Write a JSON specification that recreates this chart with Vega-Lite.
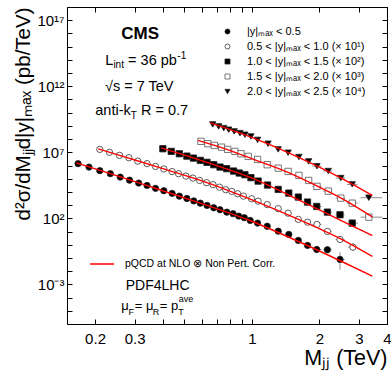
{
  "$schema": "https://vega.github.io/schema/vega-lite/v6.json",
  "width": 320,
  "height": 317,
  "autosize": "none",
  "padding": {"left": 67, "top": 7, "right": 4, "bottom": 47},
  "config": {
    "font": "Liberation Sans",
    "view": {"stroke": null},
    "axis": {"domainColor": "black", "tickColor": "black", "labelColor": "black", "titleColor": "black", "titleFontWeight": "normal", "grid": false, "labelFont": "Liberation Sans", "titleFont": "Liberation Sans"},
    "legend": {"labelColor": "black", "labelFont": "Liberation Sans"},
    "text": {"font": "Liberation Sans", "color": "black"}
  },
  "datasets": {
    "one": [{"n": 1}],
    "pts": [
      {"s": "a", "m": 0.168, "v": 1.38e6}, {"s": "a", "m": 0.188, "v": 7.59e5}, {"s": "a", "m": 0.21, "v": 4.07e5}, {"s": "a", "m": 0.234, "v": 2.40e5},
      {"s": "a", "m": 0.259, "v": 1.32e5}, {"s": "a", "m": 0.285, "v": 7.76e4}, {"s": "a", "m": 0.313, "v": 4.68e4}, {"s": "a", "m": 0.341, "v": 3.09e4},
      {"s": "a", "m": 0.372, "v": 1.86e4}, {"s": "a", "m": 0.405, "v": 1.23e4}, {"s": "a", "m": 0.441, "v": 7.76e3}, {"s": "a", "m": 0.475, "v": 4.79e3},
      {"s": "a", "m": 0.513, "v": 3.16e3}, {"s": "a", "m": 0.551, "v": 2.09e3}, {"s": "a", "m": 0.589, "v": 1.41e3}, {"s": "a", "m": 0.631, "v": 955},
      {"s": "a", "m": 0.676, "v": 631}, {"s": "a", "m": 0.721, "v": 447}, {"s": "a", "m": 0.773, "v": 295}, {"s": "a", "m": 0.824, "v": 224},
      {"s": "a", "m": 0.873, "v": 148}, {"s": "a", "m": 0.925, "v": 112}, {"s": "a", "m": 0.983, "v": 69.2}, {"s": "a", "m": 1.06, "v": 43.6},
      {"s": "a", "m": 1.17, "v": 25.1}, {"s": "a", "m": 1.31, "v": 10.7}, {"s": "a", "m": 1.46, "v": 6.03}, {"s": "a", "m": 1.61, "v": 2.14},
      {"s": "a", "m": 1.77, "v": 0.891}, {"s": "a", "m": 1.945, "v": 0.437, "xl": 1.86, "xh": 2.04},
      {"s": "a", "m": 2.17, "v": 0.417, "xl": 2.08, "xh": 2.27}, {"s": "a", "m": 2.47, "v": 0.0776, "xl": 2.36, "xh": 2.59, "yl": 0.0129, "yh": 0.275},
      {"s": "b", "m": 0.21, "v": 1.66e7}, {"s": "b", "m": 0.232, "v": 1.0e7}, {"s": "b", "m": 0.257, "v": 5.89e6}, {"s": "b", "m": 0.283, "v": 3.89e6},
      {"s": "b", "m": 0.31, "v": 2.14e6}, {"s": "b", "m": 0.341, "v": 1.38e6}, {"s": "b", "m": 0.372, "v": 8.51e5}, {"s": "b", "m": 0.405, "v": 5.50e5},
      {"s": "b", "m": 0.441, "v": 3.47e5}, {"s": "b", "m": 0.471, "v": 2.40e5}, {"s": "b", "m": 0.508, "v": 1.58e5}, {"s": "b", "m": 0.546, "v": 1.12e5},
      {"s": "b", "m": 0.585, "v": 7.41e4}, {"s": "b", "m": 0.628, "v": 5.01e4}, {"s": "b", "m": 0.671, "v": 3.55e4}, {"s": "b", "m": 0.717, "v": 2.29e4},
      {"s": "b", "m": 0.764, "v": 1.48e4}, {"s": "b", "m": 0.813, "v": 1.10e4}, {"s": "b", "m": 0.864, "v": 7.24e3}, {"s": "b", "m": 0.917, "v": 4.79e3},
      {"s": "b", "m": 0.997, "v": 3.02e3}, {"s": "b", "m": 1.066, "v": 2.0e3}, {"s": "b", "m": 1.17, "v": 1.10e3}, {"s": "b", "m": 1.31, "v": 537},
      {"s": "b", "m": 1.45, "v": 245}, {"s": "b", "m": 1.61, "v": 83.2}, {"s": "b", "m": 1.77, "v": 51.3},
      {"s": "b", "m": 1.95, "v": 34.7, "xl": 1.86, "xh": 2.04}, {"s": "b", "m": 2.17, "v": 10.2, "xl": 2.08, "xh": 2.27},
      {"s": "b", "m": 2.47, "v": 2.51, "xl": 2.36, "xh": 2.59, "yl": 1.7, "yh": 3.6}, {"s": "b", "m": 2.82, "v": 0.661, "xl": 2.68, "xh": 2.95, "yl": 0.331, "yh": 1.32},
      {"s": "c", "m": 0.401, "v": 1.86e7}, {"s": "c", "m": 0.437, "v": 1.17e7}, {"s": "c", "m": 0.475, "v": 7.76e6}, {"s": "c", "m": 0.513, "v": 5.13e6},
      {"s": "c", "m": 0.549, "v": 3.63e6}, {"s": "c", "m": 0.589, "v": 2.45e6}, {"s": "c", "m": 0.631, "v": 1.74e6}, {"s": "c", "m": 0.676, "v": 1.15e6},
      {"s": "c", "m": 0.721, "v": 7.59e5}, {"s": "c", "m": 0.772, "v": 5.75e5}, {"s": "c", "m": 0.829, "v": 3.80e5}, {"s": "c", "m": 0.878, "v": 2.69e5},
      {"s": "c", "m": 0.931, "v": 2.0e5}, {"s": "c", "m": 0.99, "v": 1.20e5}, {"s": "c", "m": 1.066, "v": 6.61e4}, {"s": "c", "m": 1.174, "v": 3.31e4},
      {"s": "c", "m": 1.31, "v": 1.55e4}, {"s": "c", "m": 1.46, "v": 8.13e3}, {"s": "c", "m": 1.61, "v": 4.07e3}, {"s": "c", "m": 1.77, "v": 1.70e3},
      {"s": "c", "m": 1.945, "v": 794, "xl": 1.86, "xh": 2.04}, {"s": "c", "m": 2.17, "v": 295, "xl": 2.08, "xh": 2.27},
      {"s": "c", "m": 2.47, "v": 186, "xl": 2.36, "xh": 2.59}, {"s": "c", "m": 2.80, "v": 43.6, "xl": 2.68, "xh": 2.97},
      {"s": "d", "m": 0.593, "v": 6.76e7}, {"s": "d", "m": 0.636, "v": 4.47e7}, {"s": "d", "m": 0.680, "v": 3.31e7}, {"s": "d", "m": 0.733, "v": 2.45e7},
      {"s": "d", "m": 0.780, "v": 1.66e7}, {"s": "d", "m": 0.840, "v": 1.17e7}, {"s": "d", "m": 0.894, "v": 7.76e6}, {"s": "d", "m": 0.963, "v": 4.90e6},
      {"s": "d", "m": 1.06, "v": 2.88e6}, {"s": "d", "m": 1.17, "v": 1.15e6}, {"s": "d", "m": 1.31, "v": 6.31e5}, {"s": "d", "m": 1.45, "v": 3.55e5},
      {"s": "d", "m": 1.62, "v": 1.78e5}, {"s": "d", "m": 1.79, "v": 7.41e4}, {"s": "d", "m": 1.95, "v": 2.63e4, "xl": 1.86, "xh": 2.04},
      {"s": "d", "m": 2.19, "v": 1.15e4, "xl": 2.08, "xh": 2.28}, {"s": "d", "m": 2.49, "v": 3.39e3, "xl": 2.36, "xh": 2.6},
      {"s": "d", "m": 2.80, "v": 1.41e3, "xl": 2.65, "xh": 2.96}, {"s": "d", "m": 3.32, "v": 123, "xl": 3.05, "xh": 3.81},
      {"s": "e", "m": 0.669, "v": 1.29e9}, {"s": "e", "m": 0.711, "v": 9.12e8}, {"s": "e", "m": 0.749, "v": 6.76e8}, {"s": "e", "m": 0.788, "v": 5.13e8},
      {"s": "e", "m": 0.834, "v": 3.80e8}, {"s": "e", "m": 0.885, "v": 2.82e8}, {"s": "e", "m": 0.931, "v": 2.14e8}, {"s": "e", "m": 0.99, "v": 1.58e8},
      {"s": "e", "m": 1.06, "v": 8.71e7}, {"s": "e", "m": 1.18, "v": 4.47e7}, {"s": "e", "m": 1.31, "v": 1.66e7}, {"s": "e", "m": 1.45, "v": 9.33e6},
      {"s": "e", "m": 1.62, "v": 4.37e6}, {"s": "e", "m": 1.79, "v": 2.04e6}, {"s": "e", "m": 1.95, "v": 8.91e5, "xl": 1.86, "xh": 2.04},
      {"s": "e", "m": 2.19, "v": 3.80e5, "xl": 2.08, "xh": 2.28}, {"s": "e", "m": 2.49, "v": 1.12e5, "xl": 2.36, "xh": 2.6},
      {"s": "e", "m": 2.80, "v": 3.72e4, "xl": 2.65, "xh": 2.96}, {"s": "e", "m": 3.32, "v": 3.63e3, "xl": 3.05, "xh": 3.81}
    ],
    "th": [
      {"s": "a", "k": "pQCD at NLO ⊗ Non Pert. Corr.", "m": 0.165, "v": 1.58e6}, {"s": "a", "k": "pQCD at NLO ⊗ Non Pert. Corr.", "m": 0.236, "v": 2.29e5},
      {"s": "a", "k": "pQCD at NLO ⊗ Non Pert. Corr.", "m": 0.356, "v": 2.40e4}, {"s": "a", "k": "pQCD at NLO ⊗ Non Pert. Corr.", "m": 0.593, "v": 1.35e3},
      {"s": "a", "k": "pQCD at NLO ⊗ Non Pert. Corr.", "m": 0.99, "v": 63.1}, {"s": "a", "k": "pQCD at NLO ⊗ Non Pert. Corr.", "m": 1.651, "v": 1.48},
      {"s": "a", "k": "pQCD at NLO ⊗ Non Pert. Corr.", "m": 2.487, "v": 0.0589}, {"s": "a", "k": "pQCD at NLO ⊗ Non Pert. Corr.", "m": 3.44, "v": 0.00417},
      {"s": "b", "k": "pQCD at NLO ⊗ Non Pert. Corr.", "m": 0.2067, "v": 1.82e7}, {"s": "b", "k": "pQCD at NLO ⊗ Non Pert. Corr.", "m": 0.29, "v": 3.16e6},
      {"s": "b", "k": "pQCD at NLO ⊗ Non Pert. Corr.", "m": 0.405, "v": 5.50e5}, {"s": "b", "k": "pQCD at NLO ⊗ Non Pert. Corr.", "m": 0.631, "v": 5.01e4},
      {"s": "b", "k": "pQCD at NLO ⊗ Non Pert. Corr.", "m": 0.99, "v": 2.69e3}, {"s": "b", "k": "pQCD at NLO ⊗ Non Pert. Corr.", "m": 1.651, "v": 69.2},
      {"s": "b", "k": "pQCD at NLO ⊗ Non Pert. Corr.", "m": 2.487, "v": 2.75}, {"s": "b", "k": "pQCD at NLO ⊗ Non Pert. Corr.", "m": 3.44, "v": 0.129},
      {"s": "c", "k": "pQCD at NLO ⊗ Non Pert. Corr.", "m": 0.394, "v": 2.14e7}, {"s": "c", "k": "pQCD at NLO ⊗ Non Pert. Corr.", "m": 0.631, "v": 1.70e6},
      {"s": "c", "k": "pQCD at NLO ⊗ Non Pert. Corr.", "m": 0.99, "v": 1.20e5}, {"s": "c", "k": "pQCD at NLO ⊗ Non Pert. Corr.", "m": 1.651, "v": 2.09e3},
      {"s": "c", "k": "pQCD at NLO ⊗ Non Pert. Corr.", "m": 2.487, "v": 69.2}, {"s": "c", "k": "pQCD at NLO ⊗ Non Pert. Corr.", "m": 3.44, "v": 5.01},
      {"s": "d", "k": "pQCD at NLO ⊗ Non Pert. Corr.", "m": 0.575, "v": 7.94e7}, {"s": "d", "k": "pQCD at NLO ⊗ Non Pert. Corr.", "m": 0.807, "v": 1.29e7},
      {"s": "d", "k": "pQCD at NLO ⊗ Non Pert. Corr.", "m": 1.06, "v": 2.24e6}, {"s": "d", "k": "pQCD at NLO ⊗ Non Pert. Corr.", "m": 1.45, "v": 3.02e5},
      {"s": "d", "k": "pQCD at NLO ⊗ Non Pert. Corr.", "m": 1.945, "v": 2.85e4}, {"s": "d", "k": "pQCD at NLO ⊗ Non Pert. Corr.", "m": 2.487, "v": 3.55e3},
      {"s": "d", "k": "pQCD at NLO ⊗ Non Pert. Corr.", "m": 3.44, "v": 129},
      {"s": "e", "k": "pQCD at NLO ⊗ Non Pert. Corr.", "m": 0.651, "v": 1.70e9}, {"s": "e", "k": "pQCD at NLO ⊗ Non Pert. Corr.", "m": 0.894, "v": 2.69e8},
      {"s": "e", "k": "pQCD at NLO ⊗ Non Pert. Corr.", "m": 1.178, "v": 4.37e7}, {"s": "e", "k": "pQCD at NLO ⊗ Non Pert. Corr.", "m": 1.651, "v": 3.47e6},
      {"s": "e", "k": "pQCD at NLO ⊗ Non Pert. Corr.", "m": 2.487, "v": 1.15e5}, {"s": "e", "k": "pQCD at NLO ⊗ Non Pert. Corr.", "m": 3.44, "v": 5.37e3}
    ]
  },
  "layer": [
    {
      "data": {"name": "pts"},
      "transform": [{"filter": "isValid(datum.xl)"}],
      "mark": {"type": "rule", "color": "#8c8c8c", "strokeWidth": 1},
      "encoding": {
        "x": {"field": "xl", "type": "quantitative", "scale": {"type": "log", "domain": [0.15, 4], "nice": false}, "axis": null},
        "x2": {"field": "xh"},
        "y": {"field": "v", "type": "quantitative", "scale": {"type": "log", "domain": [1e-6, 1e18], "nice": false}, "axis": null}
      }
    },
    {
      "data": {"name": "pts"},
      "transform": [{"filter": "isValid(datum.yl)"}],
      "mark": {"type": "rule", "color": "#8c8c8c", "strokeWidth": 1},
      "encoding": {
        "x": {"field": "m", "type": "quantitative", "scale": {"type": "log", "domain": [0.15, 4], "nice": false}, "axis": null},
        "y": {"field": "yl", "type": "quantitative", "scale": {"type": "log", "domain": [1e-6, 1e18], "nice": false}, "axis": null},
        "y2": {"field": "yh"}
      }
    },
    {
      "data": {"name": "pts"},
      "mark": {"type": "point", "filled": true, "strokeWidth": 0.8, "size": 40, "opacity": 1},
      "encoding": {
        "x": {"field": "m", "type": "quantitative", "scale": {"type": "log", "domain": [0.15, 4], "nice": false},
          "axis": {"orient": "bottom", "values": [0.2, 0.3, 0.4, 0.5, 0.6, 0.7, 0.8, 0.9, 1, 2, 3, 4], "format": "~g",
            "labelExpr": "indexof([0.2, 0.3, 1, 2, 3, 4], datum.value) >= 0 ? datum.label : ''",
            "tickSize": -5, "labelPadding": 12, "labelFontSize": 15, "labelOverlap": false, "labelFlush": false, "labelBound": false,
            "title": "Mⱼⱼ (TeV)", "titleAnchor": "end", "titleFontSize": 21.5, "titlePadding": 1}},
        "y": {"field": "v", "type": "quantitative", "scale": {"type": "log", "domain": [1e-6, 1e18], "nice": false},
          "axis": {"orient": "left", "values": [1e-6, 1e-5, 1e-4, 1e-3, 1e-2, 1e-1, 1, 10, 100, 1e3, 1e4, 1e5, 1e6, 1e7, 1e8, 1e9, 1e10, 1e11, 1e12, 1e13, 1e14, 1e15, 1e16, 1e17, 1e18],
            "labelExpr": "round(log(datum.value)/LN10) == 17 ? '10¹⁷' : round(log(datum.value)/LN10) == 12 ? '10¹²' : round(log(datum.value)/LN10) == 7 ? '10⁷' : round(log(datum.value)/LN10) == 2 ? '10²' : round(log(datum.value)/LN10) == -3 ? '10⁻³' : ''",
            "tickSize": -5, "labelPadding": 8, "labelFontSize": 15, "labelOverlap": false, "labelBound": false,
            "title": "d²σ/dMⱼⱼd|y|ₘₐₓ (pb/TeV)", "titleAnchor": "end", "titleFontSize": 20.5, "titlePadding": 3}},
        "shape": {"field": "s", "type": "nominal",
          "scale": {"domain": ["a", "b", "c", "d", "e"], "range": ["circle", "circle", "square", "square", "triangle-down"]},
          "legend": {"orient": "none", "legendX": 155, "legendY": 19, "title": null, "padding": 0, "labelFontSize": 11, "symbolSize": 25,
            "symbolStrokeWidth": 0.8, "rowPadding": 3, "labelOffset": 14,
            "labelExpr": "datum.value == 'a' ? '|y|ₘₐₓ < 0.5' : datum.value == 'b' ? '0.5 < |y|ₘₐₓ < 1.0 (× 10¹)' : datum.value == 'c' ? '1.0 < |y|ₘₐₓ < 1.5 (× 10²)' : datum.value == 'd' ? '1.5 < |y|ₘₐₓ < 2.0 (× 10³)' : '2.0 < |y|ₘₐₓ < 2.5 (× 10⁴)'"}},
        "fill": {"field": "s", "type": "nominal",
          "scale": {"domain": ["a", "b", "c", "d", "e"], "range": ["black", "white", "black", "white", "black"]},
          "legend": {"orient": "none", "legendX": 155, "legendY": 19, "title": null, "padding": 0, "labelFontSize": 11, "symbolSize": 25,
            "symbolStrokeWidth": 0.8, "rowPadding": 3, "labelOffset": 14,
            "labelExpr": "datum.value == 'a' ? '|y|ₘₐₓ < 0.5' : datum.value == 'b' ? '0.5 < |y|ₘₐₓ < 1.0 (× 10¹)' : datum.value == 'c' ? '1.0 < |y|ₘₐₓ < 1.5 (× 10²)' : datum.value == 'd' ? '1.5 < |y|ₘₐₓ < 2.0 (× 10³)' : '2.0 < |y|ₘₐₓ < 2.5 (× 10⁴)'"}},
        "stroke": {"field": "s", "type": "nominal",
          "scale": {"domain": ["a", "b", "c", "d", "e"], "range": ["#222222", "#333333", "#222222", "#555555", "#222222"]},
          "legend": {"orient": "none", "legendX": 155, "legendY": 19, "title": null, "padding": 0, "labelFontSize": 11, "symbolSize": 25,
            "symbolStrokeWidth": 0.8, "rowPadding": 3, "labelOffset": 14,
            "labelExpr": "datum.value == 'a' ? '|y|ₘₐₓ < 0.5' : datum.value == 'b' ? '0.5 < |y|ₘₐₓ < 1.0 (× 10¹)' : datum.value == 'c' ? '1.0 < |y|ₘₐₓ < 1.5 (× 10²)' : datum.value == 'd' ? '1.5 < |y|ₘₐₓ < 2.0 (× 10³)' : '2.0 < |y|ₘₐₓ < 2.5 (× 10⁴)'"}}
      }
    },
    {
      "data": {"name": "th"},
      "mark": {"type": "line", "strokeWidth": 1.4, "interpolate": "monotone"},
      "encoding": {
        "x": {"field": "m", "type": "quantitative", "scale": {"type": "log", "domain": [0.15, 4], "nice": false},
          "axis": {"orient": "top", "values": [0.2, 0.3, 0.4, 0.5, 0.6, 0.7, 0.8, 0.9, 1, 2, 3, 4], "labels": false, "tickSize": -5, "title": null}},
        "y": {"field": "v", "type": "quantitative", "scale": {"type": "log", "domain": [1e-6, 1e18], "nice": false},
          "axis": {"orient": "right", "values": [1e-6, 1e-5, 1e-4, 1e-3, 1e-2, 1e-1, 1, 10, 100, 1e3, 1e4, 1e5, 1e6, 1e7, 1e8, 1e9, 1e10, 1e11, 1e12, 1e13, 1e14, 1e15, 1e16, 1e17, 1e18], "labels": false, "tickSize": -5, "title": null}},
        "detail": {"field": "s"},
        "color": {"field": "k", "type": "nominal", "scale": {"range": ["#ff0000"]},
          "legend": {"orient": "none", "legendX": 22, "legendY": 244, "title": null, "padding": 0, "symbolType": "stroke", "symbolSize": 576, "symbolStrokeWidth": 1.5, "labelFontSize": 10.5, "labelOffset": 10}}
      }
    },
    {"data": {"name": "one"}, "mark": {"type": "text", "text": "CMS", "fontSize": 17, "fontWeight": "bold", "align": "center", "baseline": "alphabetic"},
      "encoding": {"x": {"datum": 0.3178, "type": "quantitative", "scale": {"type": "log", "domain": [0.15, 4], "nice": false}, "axis": null},
        "y": {"datum": 3.77e15, "type": "quantitative", "scale": {"type": "log", "domain": [1e-6, 1e18], "nice": false}, "axis": null}}},
    {"data": {"name": "one"}, "mark": {"type": "text", "text": "L", "fontSize": 14.5, "align": "left", "baseline": "alphabetic"},
      "encoding": {"x": {"datum": 0.2222, "type": "quantitative", "scale": {"type": "log", "domain": [0.15, 4], "nice": false}, "axis": null},
        "y": {"datum": 4.26e13, "type": "quantitative", "scale": {"type": "log", "domain": [1e-6, 1e18], "nice": false}, "axis": null}}},
    {"data": {"name": "one"}, "mark": {"type": "text", "text": "int", "fontSize": 10, "align": "left", "baseline": "alphabetic", "dx": 8.1, "dy": 3.7},
      "encoding": {"x": {"datum": 0.2222, "type": "quantitative", "scale": {"type": "log", "domain": [0.15, 4], "nice": false}, "axis": null},
        "y": {"datum": 4.26e13, "type": "quantitative", "scale": {"type": "log", "domain": [1e-6, 1e18], "nice": false}, "axis": null}}},
    {"data": {"name": "one"}, "mark": {"type": "text", "text": "= 36 pb", "fontSize": 14.5, "align": "left", "baseline": "alphabetic", "dx": 22.8},
      "encoding": {"x": {"datum": 0.2222, "type": "quantitative", "scale": {"type": "log", "domain": [0.15, 4], "nice": false}, "axis": null},
        "y": {"datum": 4.26e13, "type": "quantitative", "scale": {"type": "log", "domain": [1e-6, 1e18], "nice": false}, "axis": null}}},
    {"data": {"name": "one"}, "mark": {"type": "text", "text": "-1", "fontSize": 10, "align": "left", "baseline": "alphabetic", "dx": 72, "dy": -6},
      "encoding": {"x": {"datum": 0.2222, "type": "quantitative", "scale": {"type": "log", "domain": [0.15, 4], "nice": false}, "axis": null},
        "y": {"datum": 4.26e13, "type": "quantitative", "scale": {"type": "log", "domain": [1e-6, 1e18], "nice": false}, "axis": null}}},
    {"data": {"name": "one"}, "mark": {"type": "text", "text": "√s = 7 TeV", "fontSize": 14.5, "align": "center", "baseline": "alphabetic"},
      "encoding": {"x": {"datum": 0.3147, "type": "quantitative", "scale": {"type": "log", "domain": [0.15, 4], "nice": false}, "axis": null},
        "y": {"datum": 4.11e11, "type": "quantitative", "scale": {"type": "log", "domain": [1e-6, 1e18], "nice": false}, "axis": null}}},
    {"data": {"name": "one"}, "mark": {"type": "text", "text": "anti-k", "fontSize": 14.5, "align": "left", "baseline": "alphabetic"},
      "encoding": {"x": {"datum": 0.2005, "type": "quantitative", "scale": {"type": "log", "domain": [0.15, 4], "nice": false}, "axis": null},
        "y": {"datum": 6.24e9, "type": "quantitative", "scale": {"type": "log", "domain": [1e-6, 1e18], "nice": false}, "axis": null}}},
    {"data": {"name": "one"}, "mark": {"type": "text", "text": "T", "fontSize": 10, "align": "left", "baseline": "alphabetic", "dx": 35.4, "dy": 3.7},
      "encoding": {"x": {"datum": 0.2005, "type": "quantitative", "scale": {"type": "log", "domain": [0.15, 4], "nice": false}, "axis": null},
        "y": {"datum": 6.24e9, "type": "quantitative", "scale": {"type": "log", "domain": [1e-6, 1e18], "nice": false}, "axis": null}}},
    {"data": {"name": "one"}, "mark": {"type": "text", "text": "R = 0.7", "fontSize": 14.5, "align": "left", "baseline": "alphabetic", "dx": 45.6},
      "encoding": {"x": {"datum": 0.2005, "type": "quantitative", "scale": {"type": "log", "domain": [0.15, 4], "nice": false}, "axis": null},
        "y": {"datum": 6.24e9, "type": "quantitative", "scale": {"type": "log", "domain": [1e-6, 1e18], "nice": false}, "axis": null}}},
    {"data": {"name": "one"}, "mark": {"type": "text", "text": "PDF4LHC", "fontSize": 14, "align": "center", "baseline": "alphabetic"},
      "encoding": {"x": {"datum": 0.38, "type": "quantitative", "scale": {"type": "log", "domain": [0.15, 4], "nice": false}, "axis": null},
        "y": {"datum": 3.45e-4, "type": "quantitative", "scale": {"type": "log", "domain": [1e-6, 1e18], "nice": false}, "axis": null}}},
    {"data": {"name": "one"}, "mark": {"type": "text", "text": "μ", "fontSize": 13, "align": "left", "baseline": "alphabetic"},
      "encoding": {"x": {"datum": 0.2617, "type": "quantitative", "scale": {"type": "log", "domain": [0.15, 4], "nice": false}, "axis": null},
        "y": {"datum": 1.25e-5, "type": "quantitative", "scale": {"type": "log", "domain": [1e-6, 1e18], "nice": false}, "axis": null}}},
    {"data": {"name": "one"}, "mark": {"type": "text", "text": "F", "fontSize": 9, "align": "left", "baseline": "alphabetic", "dx": 7.3, "dy": 5},
      "encoding": {"x": {"datum": 0.2617, "type": "quantitative", "scale": {"type": "log", "domain": [0.15, 4], "nice": false}, "axis": null},
        "y": {"datum": 1.25e-5, "type": "quantitative", "scale": {"type": "log", "domain": [1e-6, 1e18], "nice": false}, "axis": null}}},
    {"data": {"name": "one"}, "mark": {"type": "text", "text": "= μ", "fontSize": 13, "align": "left", "baseline": "alphabetic", "dx": 13.5},
      "encoding": {"x": {"datum": 0.2617, "type": "quantitative", "scale": {"type": "log", "domain": [0.15, 4], "nice": false}, "axis": null},
        "y": {"datum": 1.25e-5, "type": "quantitative", "scale": {"type": "log", "domain": [1e-6, 1e18], "nice": false}, "axis": null}}},
    {"data": {"name": "one"}, "mark": {"type": "text", "text": "R", "fontSize": 9, "align": "left", "baseline": "alphabetic", "dx": 31.5, "dy": 5},
      "encoding": {"x": {"datum": 0.2617, "type": "quantitative", "scale": {"type": "log", "domain": [0.15, 4], "nice": false}, "axis": null},
        "y": {"datum": 1.25e-5, "type": "quantitative", "scale": {"type": "log", "domain": [1e-6, 1e18], "nice": false}, "axis": null}}},
    {"data": {"name": "one"}, "mark": {"type": "text", "text": "= p", "fontSize": 13, "align": "left", "baseline": "alphabetic", "dx": 38.5},
      "encoding": {"x": {"datum": 0.2617, "type": "quantitative", "scale": {"type": "log", "domain": [0.15, 4], "nice": false}, "axis": null},
        "y": {"datum": 1.25e-5, "type": "quantitative", "scale": {"type": "log", "domain": [1e-6, 1e18], "nice": false}, "axis": null}}},
    {"data": {"name": "one"}, "mark": {"type": "text", "text": "T", "fontSize": 9, "align": "left", "baseline": "alphabetic", "dx": 57, "dy": 5},
      "encoding": {"x": {"datum": 0.2617, "type": "quantitative", "scale": {"type": "log", "domain": [0.15, 4], "nice": false}, "axis": null},
        "y": {"datum": 1.25e-5, "type": "quantitative", "scale": {"type": "log", "domain": [1e-6, 1e18], "nice": false}, "axis": null}}},
    {"data": {"name": "one"}, "mark": {"type": "text", "text": "ave", "fontSize": 9, "align": "left", "baseline": "alphabetic", "dx": 57.5, "dy": -7.5},
      "encoding": {"x": {"datum": 0.2617, "type": "quantitative", "scale": {"type": "log", "domain": [0.15, 4], "nice": false}, "axis": null},
        "y": {"datum": 1.25e-5, "type": "quantitative", "scale": {"type": "log", "domain": [1e-6, 1e18], "nice": false}, "axis": null}}}
  ],
  "resolve": {"axis": {"x": "independent", "y": "independent"}}
}
